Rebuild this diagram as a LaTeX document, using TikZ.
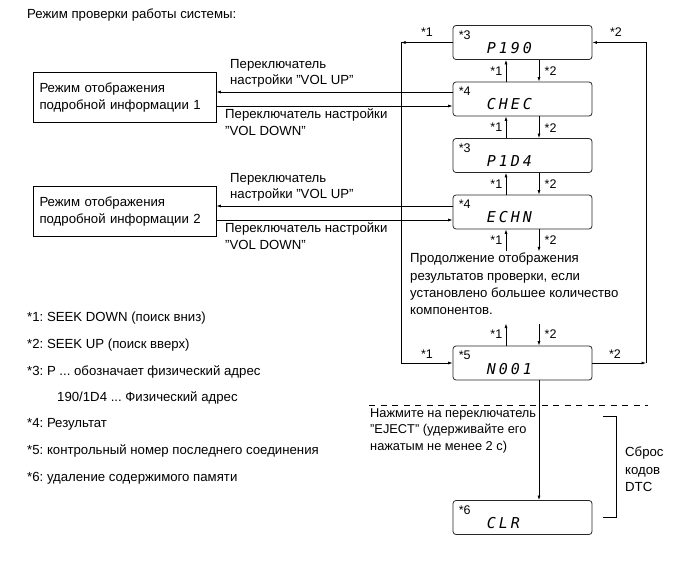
\documentclass[tikz,border=0pt]{standalone}
\usepackage{fontspec}
\setmainfont{Liberation Sans}
\newfontfamily\lcdfont[LetterSpace=20]{DejaVu Sans Mono}
\usetikzlibrary{arrows.meta}
\frenchspacing
\begin{document}
\begin{tikzpicture}[x=1pt,y=-1pt,
  every node/.style={font=\fontsize{13.2}{16.6}\selectfont},
  txt/.style={inner sep=0pt, align=left, anchor=north west},
  lbox/.style={draw, line width=0.7pt, minimum width=183pt, minimum height=50pt, inner sep=0pt, text width=170pt, align=left},
  dbox/.style={draw=black!85, line width=0.8pt, rounded corners=3pt, minimum width=139pt, minimum height=34pt, inner sep=0pt},
  arr/.style={-{Latex[length=4.5pt,width=3pt]}},
  ln/.style={line width=0.7pt},
  star/.style={inner sep=0pt, font=\fontsize{12.5}{14}\selectfont},
  lcd/.style={inner sep=0pt, anchor=base west, font=\lcdfont\itshape\fontsize{15}{15}\selectfont}
]
\useasboundingbox (0,0) rectangle (691,564);

% title
\node[txt] (title) at (27,9) {Режим проверки работы системы:};

% left boxes
\node[lbox] (box1) at (124.5,97.5) {Режим отображения\\подробной информации 1};
\node[lbox] (box2) at (124.5,211.5) {Режим отображения\\подробной информации 2};

% display boxes
\node[dbox] (p190) at (522.5,42.5) {};
\node[dbox] (chec) at (522.5,99) {};
\node[dbox] (p1d4) at (522.5,155.5) {};
\node[dbox] (echn) at (522.5,212) {};
\node[dbox] (n001) at (522.5,363) {};
\node[dbox] (clr) at (522.5,517.5) {};

\foreach \b/\s/\t in {p190/3/P190, chec/4/CHEC, p1d4/3/P1D4, echn/4/ECHN, n001/5/N001, clr/6/CLR}{
  \node[star, anchor=north west] (\b s) at ([xshift=6pt,yshift=-5pt]\b.north west) {*\s};
  \node[lcd] (\b t) at ([xshift=34pt,yshift=-11pt]\b.west) {\t};
}

% up/down arrows between boxes
\foreach \a/\b in {p190/chec, chec/p1d4, p1d4/echn}{
  \draw[ln,arr] ([xshift=-16.5pt]\b.north) -- ([xshift=-16.5pt]\a.south);
  \draw[ln,arr] ([xshift=16.5pt]\a.south) -- ([xshift=16.5pt]\b.north);
  \node[star, anchor=east] (\a l1) at ([xshift=-20pt,yshift=-11.25pt]\a.south) {*1};
  \node[star, anchor=west] (\a l2) at ([xshift=22pt,yshift=-11.25pt]\a.south) {*2};
}
% below ECHN
\coordinate (eu) at ([xshift=-16.5pt,yshift=-22pt]echn.south);
\coordinate (ed) at ([xshift=16.5pt,yshift=-22pt]echn.south);
\draw[ln,arr] (eu) -- ([xshift=-16.5pt]echn.south);
\draw[ln,arr] ([xshift=16.5pt]echn.south) -- (ed);
\node[star, anchor=east] (el1) at ([xshift=-20pt,yshift=-11pt]echn.south) {*1};
\node[star, anchor=west] (el2) at ([xshift=22pt,yshift=-11pt]echn.south) {*2};
% above N001
\coordinate (nu) at ([xshift=-16.5pt,yshift=22pt]n001.north);
\coordinate (nd) at ([xshift=16.5pt,yshift=22pt]n001.north);
\draw[ln,arr] ([xshift=-16.5pt]n001.north) -- (nu);
\draw[ln,arr] (nd) -- ([xshift=16.5pt]n001.north);
\node[star, anchor=east] (nl1) at ([xshift=-20pt,yshift=11pt]n001.north) {*1};
\node[star, anchor=west] (nl2) at ([xshift=22pt,yshift=11pt]n001.north) {*2};

% wrap-around loops
\coordinate (lx) at (401,0);
\coordinate (rx) at (646,0);
\draw[ln,arr] (p190.west) -- (p190.west -| lx);
\draw[ln,arr] (p190.west -| lx) -- (n001.west -| lx) -- (n001.west);
\draw[ln,arr] (n001.east) -- (n001.east -| rx);
\draw[ln,arr] (n001.east -| rx) -- (p190.east -| rx) -- (p190.east);
\node[star] (lt) at (427,32) {*1};
\node[star] (rt) at (616,32) {*2};
\node[star] (lb) at (427,354) {*1};
\node[star] (rb) at (615,354) {*2};

% VOL lines
\draw[ln,arr] ([yshift=7pt]chec.west) -- ([yshift=7pt]chec.west -| box1.east);
\draw[ln,arr] ([yshift=-7pt]chec.west -| box1.east) -- ([yshift=-7pt]chec.west);
\draw[ln,arr] ([yshift=6pt]echn.west) -- ([yshift=6pt]echn.west -| box2.east);
\draw[ln,arr] ([yshift=-8pt]echn.west -| box2.east) -- ([yshift=-8pt]echn.west);
\node[txt] (u1) at (230,59) {Переключатель\\настройки "VOL UP"};
\node[txt] (d1) at (225,109) {Переключатель настройки\\"VOL DOWN"};
\node[txt] (u2) at (230,173) {Переключатель\\настройки "VOL UP"};
\node[txt] (d2) at (225,223) {Переключатель настройки\\"VOL DOWN"};

% continuation text
\node[txt, font=\fontsize{13.2}{17.3}\selectfont] (cont) at (410,253) {Продолжение отображения\\результатов проверки, если\\установлено большее количество\\компонентов.};

% EJECT
\draw[ln, dash pattern=on 6pt off 5.5pt] (369,405) -- (648,405);
\draw[ln,arr] ([xshift=16.5pt]n001.south) -- ([xshift=16.5pt]clr.north);
\node[txt, font=\fontsize{12.8}{16.6}\selectfont] (ej) at (370,408) {Нажмите на переключатель\\"EJECT" (удерживайте его\\нажатым не менее 2 с)};
\draw[ln] (603,416) -- (616,416) -- (616,517) -- (603,517);
\node[txt, font=\fontsize{13.2}{17.5}\selectfont] (dtc) at (625,447) {Сброс\\кодов\\DTC};

% legend
\node[txt] (g1) at (27,312) {*1: SEEK DOWN (поиск вниз)};
\node[txt] (g2) at (27,338.6) {*2: SEEK UP (поиск вверх)};
\node[txt] (g3) at (27,365.2) {*3: P ... обозначает физический адрес};
\node[txt] (g4) at (57,391.8) {190/1D4 ... Физический адрес};
\node[txt] (g5) at (27,418.4) {*4: Результат};
\node[txt] (g6) at (27,445) {*5: контрольный номер последнего соединения};
\node[txt] (g7) at (27,471.6) {*6: удаление содержимого памяти};
\end{tikzpicture}
\end{document}
